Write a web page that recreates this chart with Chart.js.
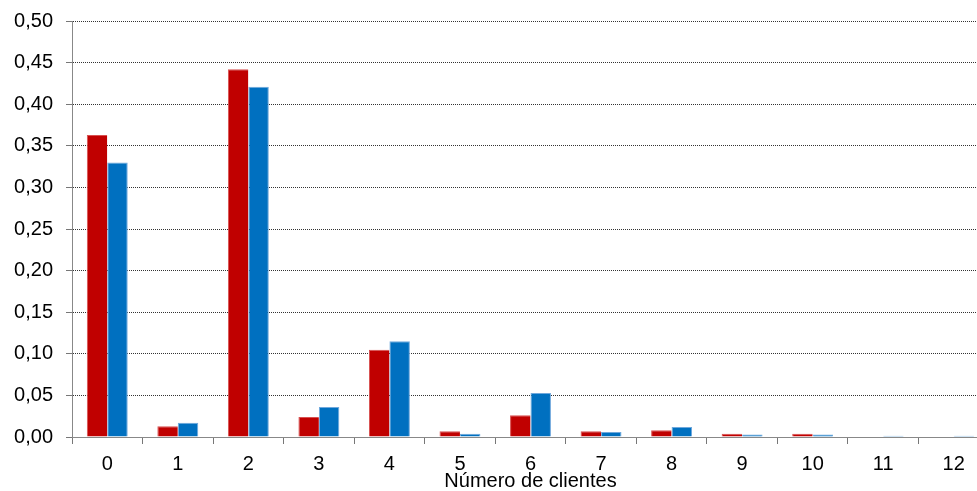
<!DOCTYPE html>
<html><head><meta charset="utf-8">
<script src="https://cdn.jsdelivr.net/npm/chart.js@4"></script>
<style>html,body{margin:0;padding:0;background:#fff;overflow:hidden}#wrap{width:977px;height:491px;overflow:hidden}</style>
</head><body><div id="wrap"><canvas id="c" width="995" height="491"></canvas></div>
<script>
const categories = ['0','1','2','3','4','5','6','7','8','9','10','11','12'];
const seriesRed = [0.363,0.013,0.442,0.024,0.105,0.007,0.026,0.007,0.008,0.004,0.004,0.0,0.0];
const seriesBlue = [0.330,0.017,0.421,0.036,0.115,0.004,0.053,0.006,0.012,0.003,0.003,0.0015,0.0015];
const xTitle = 'Número de clientes';
const font = {family:'"Liberation Sans", Arial, sans-serif', size:20};
new Chart(document.getElementById('c'), {
  type:'bar',
  data:{labels:categories, datasets:[
    {data:seriesRed, backgroundColor:'#C00000', borderColor:'#D85050', borderWidth:{top:1,left:1,right:0,bottom:0}, categoryPercentage:0.58, barPercentage:1},
    {data:seriesBlue, backgroundColor:'#0070C0', borderColor:'#6FA8DC', borderWidth:{top:1,left:1,right:1,bottom:0}, categoryPercentage:0.58, barPercentage:1}
  ]},
  options:{
    responsive:false, animation:false,
    layout:{padding:{top:21,right:6,left:0,bottom:0}},
    plugins:{legend:{display:false}, tooltip:{enabled:false}},
    scales:{
      x:{offset:true,
         afterFit:s=>{s.height=54;},
         grid:{offset:true, drawOnChartArea:false, color:'#777', tickColor:'#777', tickLength:7},
         border:{color:'#888', width:1},
         ticks:{color:'#000', font:font, padding:8, maxRotation:0, autoSkip:false},
         title:{display:true, text:xTitle, color:'#000', font:{family:font.family,size:20,lineHeight:1}, padding:{top:0,bottom:0}}},
      y:{min:0, max:0.5,
         afterFit:s=>{s.width=72; s.paddingTop=0; s.paddingBottom=0;},
         grid:{color:'#333', tickColor:'#777', tickLength:6, lineWidth:1},
         border:{color:'#888', width:1, dash:[1,1]},
         ticks:{stepSize:0.05, color:'#000', font:font, padding:13,
           callback:v=>v.toFixed(2).replace('.',',')}}
    }
  }
});
</script></body></html>
